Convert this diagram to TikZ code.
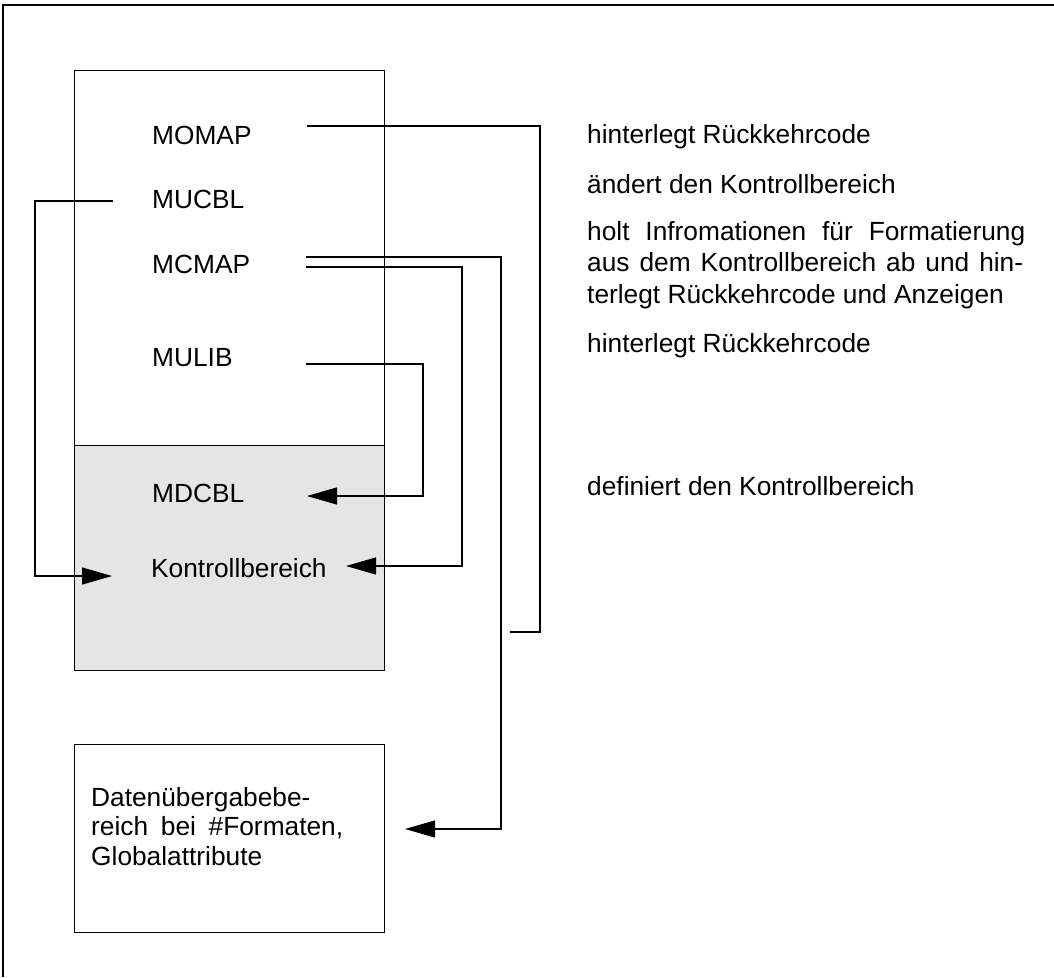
\documentclass[tikz,border=0pt]{standalone}
\usepackage{fontspec}
\setmainfont{Liberation Sans}
\usetikzlibrary{arrows.meta}
\definecolor{ctrlgray}{HTML}{E5E5E5}
\begin{document}
\begin{tikzpicture}[x=1pt,y=-1pt,
  wire/.style={draw=black, line width=1.2pt},
  pointer/.style={wire, -{Triangle[length=30pt,width=17pt]}},
  box/.style={draw=black, line width=1.2pt, inner sep=0pt, anchor=north west},
  lbl/.style={anchor=base west, inner sep=0pt, font=\fontsize{26.3}{30}\selectfont},
]
\useasboundingbox (0,0) rectangle (1054,977);

% page frame: top and left edges
\coordinate (frameR) at (1054,5);
\coordinate (frameTL) at (3,5);
\coordinate (frameB) at (3,977);
\draw[wire] (frameR) -- (frameTL) -- (frameB);

% program area, control area and data transfer area
\node[box, minimum width=310pt, minimum height=375pt] (prog) at (74,70) {};
\node[box, fill=ctrlgray, minimum width=310pt, minimum height=225pt] (ctrl) at (74,445) {};
\node[box, minimum width=310pt, minimum height=188pt] (dub) at (74,744) {};

% module names
\node[lbl] (momap) at (152,144) {MOMAP};
\node[lbl] (mucbl) at (152,208) {MUCBL};
\node[lbl] (mcmap) at (152,273) {MCMAP};
\node[lbl] (mulib) at (152,366) {MULIB};
\node[lbl] (mdcbl) at (152,502) {MDCBL};
\node[lbl] (kb) at (151,577) {Kontrollbereich};
\node[lbl, font=\fontsize{26.3}{29.5}\selectfont] (dubtext) at (91,806)
  {\begin{tabular}[t]{@{}l@{}}Datenübergabebe-\\\makebox[252pt][s]{reich bei \#Formaten,}\\Globalattribute\end{tabular}};

% descriptions
\node[lbl] (d1) at (587,143) {hinterlegt Rückkehrcode};
\node[lbl] (d2) at (587,193) {ändert den Kontrollbereich};
\node[lbl, font=\fontsize{26.3}{31.5}\selectfont] (d3) at (587,240)
  {\begin{tabular}[t]{@{}l@{}}\makebox[438pt][s]{holt Infromationen für Formatierung}\\
   \makebox[436pt][s]{aus dem Kontrollbereich ab und hin-}\\
   terlegt Rückkehrcode und Anzeigen\end{tabular}};
\node[lbl] (d4) at (587,352) {hinterlegt Rückkehrcode};
\node[lbl] (d5) at (587,495) {definiert den Kontrollbereich};

% connector end points
\coordinate (momapOut) at (307,126);
\coordinate (momapEnd) at (510,632);
\coordinate (mucblOut) at (113,201);
\coordinate (mucblIn) at (112,576);
\coordinate (mcmapOutA) at (306,257);
\coordinate (dubIn) at (405,829);
\coordinate (mcmapOutB) at (306,267);
\coordinate (kbIn) at (346,566);
\coordinate (mulibOut) at (306,364);
\coordinate (mdcblIn) at (307,496);

% connectors
\draw[wire] (momapOut) -| (540,632) -- (momapEnd);
\draw[pointer] (mucblOut) -| (35,576) -- (mucblIn);
\draw[pointer] (mcmapOutA) -| (501,829) -- (dubIn);
\draw[pointer] (mcmapOutB) -| (462,566) -- (kbIn);
\draw[pointer] (mulibOut) -| (423,496) -- (mdcblIn);
\end{tikzpicture}
\end{document}
